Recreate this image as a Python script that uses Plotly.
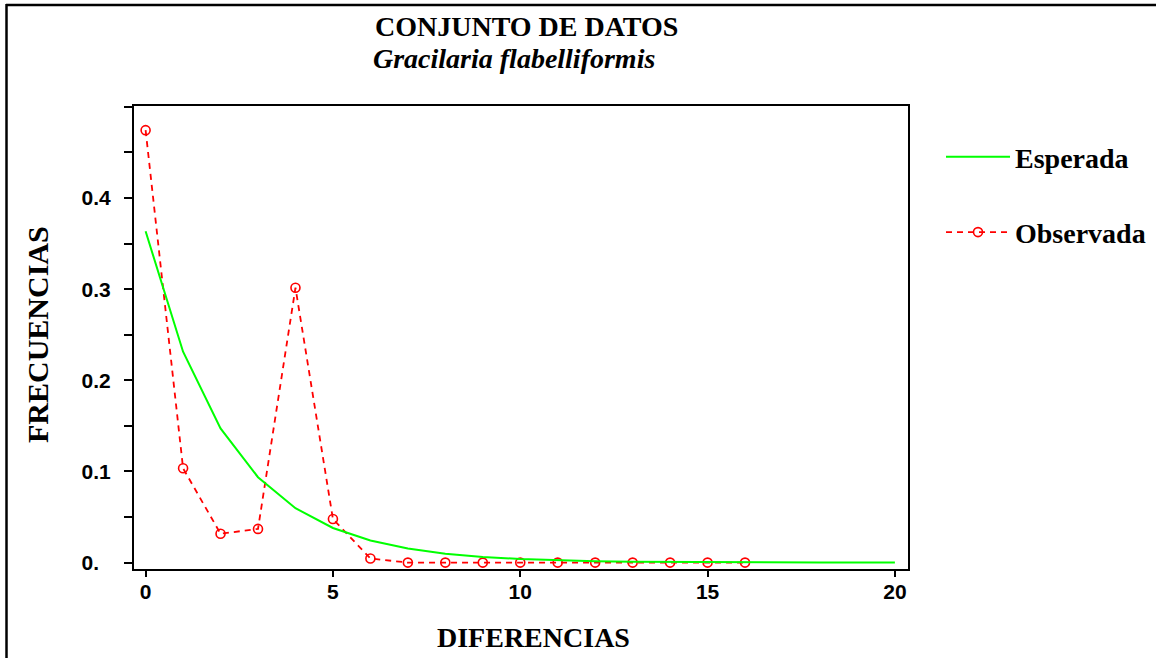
import plotly.graph_objects as go

# Data
x_expected = list(range(0, 21))
y_expected = [0.3635, 0.2314, 0.1473, 0.0937, 0.0597, 0.0380, 0.0242, 0.0154,
              0.0098, 0.0062, 0.0040, 0.0025, 0.0016, 0.0010, 0.0007, 0.0004,
              0.0003, 0.0002, 0.0001, 0.0001, 0.0000]

x_observed = list(range(0, 17))
y_observed = [0.4745, 0.1035, 0.0317, 0.0370, 0.3016, 0.0478, 0.0046, 0.0,
              0.0, 0.0, 0.0, 0.0, 0.0, 0.0, 0.0, 0.0, 0.0]

y_tickvals = [0, 0.1, 0.2, 0.3, 0.4]
y_ticktext = ["0.\u00a0\u00a0", "0.1", "0.2", "0.3", "0.4"]
x_tickvals = [0, 5, 10, 15, 20]

W, H = 1156, 658
ML, MR, MT, MB = 134, 248, 106, 89
PW, PH = W - ML - MR, H - MT - MB


def px_x(p):
    return (p - ML) / PW


def px_y(p):
    return (H - MB - p) / PH


serif = "Liberation Serif"
sans = "Liberation Sans"

fig = go.Figure()
fig.add_trace(go.Scatter(
    x=x_observed, y=y_observed, name="Observada", mode="lines+markers",
    line=dict(color="#ff0000", width=1.8, dash="6px,5px"),
    marker=dict(symbol="circle-open", size=9, color="#ff0000", line=dict(width=1.6)),
    legendrank=2, legendgroup="b",
))
fig.add_trace(go.Scatter(
    x=x_expected, y=y_expected, name="Esperada", mode="lines",
    line=dict(color="#00ff00", width=2),
    legendrank=1, legendgroup="a",
))

fig.update_layout(
    width=W, height=H,
    margin=dict(l=ML, r=MR, t=MT, b=MB, autoexpand=False),
    paper_bgcolor="white", plot_bgcolor="white",
    showlegend=True,
    legend=dict(
        x=px_x(941), y=px_y(132), xanchor="left", yanchor="top",
        font=dict(family=serif, size=28, color="black", weight="bold"),
        itemwidth=64, tracegroupgap=36, traceorder="grouped",
        bgcolor="rgba(0,0,0,0)",
    ),
    xaxis=dict(
        range=[-0.31, 20.35], tickvals=x_tickvals, ticks="outside", ticklen=6,
        tickwidth=2, tickcolor="black", showline=True, linecolor="black",
        linewidth=2, mirror=True, showgrid=False, zeroline=False,
        tickfont=dict(family=sans, size=21, color="black", weight="bold"),
        ticklabelstandoff=-3, automargin=False,
    ),
    yaxis=dict(
        range=[-0.007, 0.501], tickvals=y_tickvals, ticktext=y_ticktext,
        ticks="outside", ticklen=8, tickwidth=2, tickcolor="black",
        minor=dict(dtick=0.05, tick0=0.05, ticks="outside", ticklen=8,
                   tickwidth=2, tickcolor="black", showgrid=False),
        showline=True, linecolor="black", linewidth=2, mirror=True,
        showgrid=False, zeroline=False,
        tickfont=dict(family=sans, size=21, color="black", weight="bold"),
        ticklabelstandoff=9, automargin=False,
    ),
    annotations=[
        dict(text="CONJUNTO DE DATOS", xref="paper", yref="paper",
             x=px_x(526), y=px_y(26), xanchor="center", yanchor="middle",
             showarrow=False,
             font=dict(family=serif, size=28, color="black", weight="bold")),
        dict(text="<i>Gracilaria flabelliformis</i>", xref="paper", yref="paper",
             x=px_x(514), y=px_y(58), xanchor="center", yanchor="middle",
             showarrow=False,
             font=dict(family=serif, size=28, color="black", weight="bold")),
        dict(text="DIFERENCIAS", xref="paper", yref="paper",
             x=px_x(533), y=px_y(637), xanchor="center", yanchor="middle",
             showarrow=False,
             font=dict(family=serif, size=28, color="black", weight="bold")),
        dict(text="FRECUENCIAS", xref="paper", yref="paper", textangle=-90,
             x=px_x(37), y=px_y(334), xanchor="center", yanchor="middle",
             showarrow=False,
             font=dict(family=serif, size=30, color="black", weight="bold")),
    ],
    shapes=[
        dict(type="line", xref="paper", yref="paper",
             x0=px_x(6), x1=px_x(W + 5), y0=px_y(5), y1=px_y(5),
             line=dict(color="black", width=2.5)),
        dict(type="line", xref="paper", yref="paper",
             x0=px_x(6.5), x1=px_x(6.5), y0=px_y(4), y1=px_y(H + 5),
             line=dict(color="black", width=2.5)),
    ],
)

fig.write_html("out.html", config={"displayModeBar": False},
               post_script="document.body.style.margin='0';document.body.style.overflow='hidden';")
